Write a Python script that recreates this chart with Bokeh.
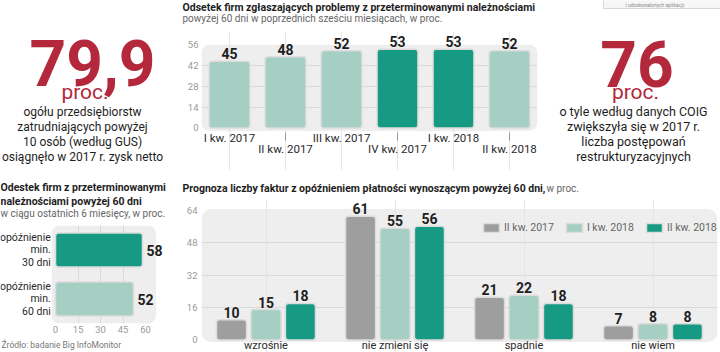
from bokeh.plotting import figure
from bokeh.layouts import row, column
from bokeh.models import (Range1d, FactorRange, FixedTicker, BoxAnnotation,
                          ColumnDataSource, Legend, LegendItem)
from bokeh.transform import dodge
from bokeh.core.properties import value
from bokeh.embed import file_html
from bokeh.resources import INLINE

# ---------------- data ----------------
stat1_value = "79,9"
stat1_lines = ["ogółu przedsiębiorstw", "zatrudniających powyżej",
               "10 osób (według GUS)", "osiągnęło w 2017 r. zysk netto"]
stat2_value = "76"
stat2_lines = ["o tyle według danych COIG", "zwiększyła się w 2017 r.",
               "liczba postępowań", "restrukturyzacyjnych"]
unit = "proc."

quarters = ["I kw. 2017", "II kw. 2017", "III kw. 2017", "IV kw. 2017", "I kw. 2018", "II kw. 2018"]
share_problems = [45, 48, 52, 53, 53, 52]
highlighted = ["IV kw. 2017", "I kw. 2018"]
ticks1 = [0, 14, 28, 42, 56]

delay_labels = ["opóźnienie\nmin.\n30 dni", "opóźnienie\nmin.\n60 dni"]
delay_values = [58, 52]
ticks2 = [0, 15, 30, 45, 60]

forecast_cats = ["wzrośnie", "nie zmieni się", "spadnie", "nie wiem"]
series_names = ["II kw. 2017", "I kw. 2018", "II kw. 2018"]
forecast_q2_2017 = [10, 61, 21, 7]
forecast_q1_2018 = [15, 55, 22, 8]
forecast_q2_2018 = [18, 56, 18, 8]
ticks3 = [0, 16, 32, 48, 64]

# ---------------- style ----------------
RED = "#b3283b"
LIGHT = "#a6cfc4"
DARK = "#179a83"
GRAY = "#9e9e9e"
BOXC = "#eeeeee"
GRIDC = "#d9d9d9"
BARLINE = "#dcdcdc"
TXT = "#1e1e1e"
SUB = "#666666"
TICKC = "#9a9a9a"
CATC = "#2a2a2a"
FONT = "Roboto"


def canvas(w, h):
    p = figure(width=w, height=h, x_range=Range1d(0, w), y_range=Range1d(h, 0),
               output_backend="svg", toolbar_location=None, min_border=0,
               x_axis_location=None, y_axis_location=None)
    p.grid.visible = False
    p.outline_line_color = None
    return p


def txt(p, x, y, s, size, color=TXT, style="normal", align="left", baseline="middle"):
    p.text(x=[x], y=[y], text=[s], text_font=value(FONT), text_font_size=value(f"{size}px"),
           text_color=color, text_font_style=style, text_align=align, text_baseline=baseline)


def style_axis(ax, size, color, standoff):
    ax.axis_line_color = None
    ax.major_tick_line_color = None
    ax.minor_tick_line_color = None
    ax.major_tick_out = 0
    ax.major_tick_in = 0
    ax.minor_tick_out = 0
    ax.minor_tick_in = 0
    ax.major_label_text_font = FONT
    ax.major_label_text_font_size = f"{size}px"
    ax.major_label_text_color = color
    ax.major_label_standoff = standoff


# ---------------- left stat ----------------
lf = canvas(175, 170)
txt(lf, 92, 62, stat1_value, 64, RED, "bold", "center", "alphabetic")
txt(lf, 84.5, 91, unit, 21, RED, "normal", "center", "alphabetic")
for i, line in enumerate(stat1_lines):
    txt(lf, 82, 111 + 15 * i, line, 12, TXT, "normal", "center")

# ---------------- right stat ----------------
rf = canvas(175, 170)
rf.quad(left=[58], right=[180], top=[-5], bottom=[8], fill_color="#f6f6f6", line_color="#d8d8d8")
txt(rf, 80, 4, "i udoskonalonych aplikacji.", 5, "#888888")
txt(rf, 91.5, 63, stat2_value, 64, RED, "bold", "center", "alphabetic")
txt(rf, 90, 91, unit, 21, RED, "normal", "center", "alphabetic")
for i, line in enumerate(stat2_lines):
    txt(rf, 88, 111 + 15 * i, line, 12.5, TXT, "normal", "center")

# ---------------- chart 1 ----------------
hdr1 = canvas(370, 30)
txt(hdr1, 7, 7, "Odsetek firm zgłaszających problemy z przeterminowanymi należnościami", 10.5, TXT, "bold")
txt(hdr1, 7, 18, "powyżej 60 dni w poprzednich sześciu miesiącach, w proc.", 10, SUB)

idx = list(range(len(quarters)))
src1 = ColumnDataSource(dict(x=idx, top=share_problems,
                             label=[str(v) for v in share_problems],
                             color=[DARK if q in highlighted else LIGHT for q in quarters],
                             cat=quarters,
                             cat_off=[10 if i % 2 == 0 else 21 for i in idx]))
p1 = figure(width=370, height=140, x_range=Range1d(-0.5, len(quarters) - 0.5),
            y_range=Range1d(-28.7, 65), output_backend="svg", toolbar_location=None,
            x_axis_location=None, min_border_left=26, min_border_right=8,
            min_border_top=1, min_border_bottom=0)
p1.outline_line_color = None
p1.add_layout(BoxAnnotation(bottom=-2, top=56, fill_color=BOXC, fill_alpha=1,
                            line_color=None, border_radius=8, level="image"))
p1.vbar(x="x", top="top", width=0.73, source=src1, fill_color="color",
        line_color=BARLINE, line_width=1.5, border_radius=3)
p1.text(x="x", y="top", text="label", source=src1, text_align="center",
        text_baseline="bottom", y_offset=-2, text_font=value(FONT),
        text_font_style="bold", text_font_size=value("14px"), text_color=TXT)
# staggered category labels under the bars
p1.text(x="x", y=0, text="cat", source=src1, y_offset="cat_off", text_align="center",
        text_baseline="middle", text_font=value(FONT), text_font_size=value("11.5px"),
        text_color=CATC)
even = idx[1::2]
p1.segment(x0=even, x1=even, y0=[-3.1] * len(even), y1=[-8.5] * len(even),
           line_color=TICKC, line_width=1)
p1.yaxis.ticker = FixedTicker(ticks=ticks1)
style_axis(p1.yaxis[0], 9.5, TICKC, 3)
p1.ygrid.ticker = FixedTicker(ticks=ticks1[1:-1])
p1.ygrid.grid_line_color = GRIDC

# ---------------- chart 2 ----------------
hdr2 = canvas(172, 55)
txt(hdr2, 0, 17, "Odestek firm z przeterminowanymi", 10.5, TXT, "bold")
txt(hdr2, 0, 31, "należnościami powyżej 60 dni", 10.5, TXT, "bold")
txt(hdr2, 0, 42.5, "w ciągu ostatnich 6 miesięcy, w proc.", 10, SUB)

delay_colors = [DARK, LIGHT]
src2 = ColumnDataSource(dict(cat=delay_labels, val=delay_values,
                             lab=[str(v) for v in delay_values], color=delay_colors))
p2 = figure(width=172, height=112, x_range=Range1d(-36.67, 78),
            y_range=FactorRange(factors=list(reversed(delay_labels)), range_padding=0),
            output_backend="svg", toolbar_location=None, y_axis_location=None,
            min_border_left=0, min_border_right=0, min_border_top=0, min_border_bottom=14)
p2.outline_line_color = None
p2.add_layout(BoxAnnotation(left=-2.5, right=67, fill_color=BOXC, fill_alpha=1,
                            line_color=None, border_radius=8, level="image"))
p2.xgrid.ticker = FixedTicker(ticks=ticks2[1:-1])
p2.xgrid.grid_line_color = GRIDC
p2.ygrid.grid_line_color = None
p2.hbar(y="cat", left=0, right="val", height=0.69, source=src2, fill_color="color",
        line_color=BARLINE, line_width=1.5, border_radius=3)
p2.text(x="val", y="cat", text="lab", source=src2, x_offset=4, text_align="left",
        text_baseline="middle", text_font=value(FONT), text_font_style="bold",
        text_font_size=value("14px"), text_color=TXT)
p2.text(x=-2.5, y="cat", text="cat", source=src2, x_offset=-1, text_align="right",
        text_baseline="middle", text_font=value(FONT), text_font_size=value("10.5px"),
        text_color=CATC, text_line_height=0.95)
p2.xaxis.ticker = FixedTicker(ticks=ticks2)
style_axis(p2.xaxis[0], 9.5, TICKC, 2)

srcf = canvas(172, 15)
txt(srcf, 1, 7.5, "Źródło: badanie Big InfoMonitor", 8.5, "#777777")

# ---------------- chart 3 ----------------
hdr3 = canvas(548, 27)
txt(hdr3, 10, 18, "Prognoza liczby faktur z opóźnieniem płatności wynoszącym powyżej 60 dni,", 10.5, TXT, "bold")
txt(hdr3, 374, 18, "w proc.", 10, SUB)

src3 = ColumnDataSource(dict(cat=forecast_cats,
                             a=forecast_q2_2017, b=forecast_q1_2018, c=forecast_q2_2018,
                             a_lab=[str(v) for v in forecast_q2_2017],
                             b_lab=[str(v) for v in forecast_q1_2018],
                             c_lab=[str(v) for v in forecast_q2_2018]))
p3 = figure(width=548, height=155, x_range=FactorRange(factors=forecast_cats, range_padding=0),
            y_range=Range1d(-6.16, 68.7), output_backend="svg", toolbar_location=None,
            x_axis_location=None,
            min_border_left=29, min_border_right=3, min_border_top=3, min_border_bottom=0)
p3.outline_line_color = None
p3.add_layout(BoxAnnotation(bottom=-1, top=64.5, fill_color=BOXC, fill_alpha=1,
                            line_color=None, border_radius=10, level="image"))
items = []
for key, off, color, name in zip(["a", "b", "c"], [-0.267, 0, 0.267], [GRAY, LIGHT, DARK], series_names):
    r = p3.vbar(x=dodge("cat", off, range=p3.x_range), top=key, width=0.233, source=src3,
                fill_color=color, line_color=BARLINE, line_width=1.5, border_radius=3)
    p3.text(x=dodge("cat", off, range=p3.x_range), y=key, text=key + "_lab", source=src3,
            text_align="center", text_baseline="bottom", y_offset=-2, text_font=value(FONT),
            text_font_style="bold", text_font_size=value("14px"), text_color=TXT)
    items.append(LegendItem(label=name, renderers=[r]))
# category labels under the groups
p3.text(x="cat", y=0, text="cat", source=src3, y_offset=5.5, text_align="center",
        text_baseline="middle", text_font=value(FONT), text_font_size=value("11px"),
        text_color=CATC)
p3.yaxis.ticker = FixedTicker(ticks=ticks3)
style_axis(p3.yaxis[0], 9.5, TICKC, 4)
p3.ygrid.ticker = FixedTicker(ticks=ticks3[1:-1])
p3.ygrid.grid_line_color = GRIDC
legend = Legend(items=items, orientation="horizontal", location=(280, 118),
                glyph_width=20, glyph_height=11, label_height=14,
                label_text_font=FONT, label_text_font_size="10.5px", label_text_color="#666666",
                spacing=10, label_standoff=3, padding=0, margin=0,
                background_fill_alpha=0, border_line_color=None)
p3.add_layout(legend)

layout = column(
    row(lf, column(row(hdr1), row(p1)), rf),
    row(column(row(hdr2), row(p2), row(srcf)), column(row(hdr3), row(p3))),
)

with open("out.html", "w") as f:
    f.write(file_html(layout, INLINE, title="chart"))
